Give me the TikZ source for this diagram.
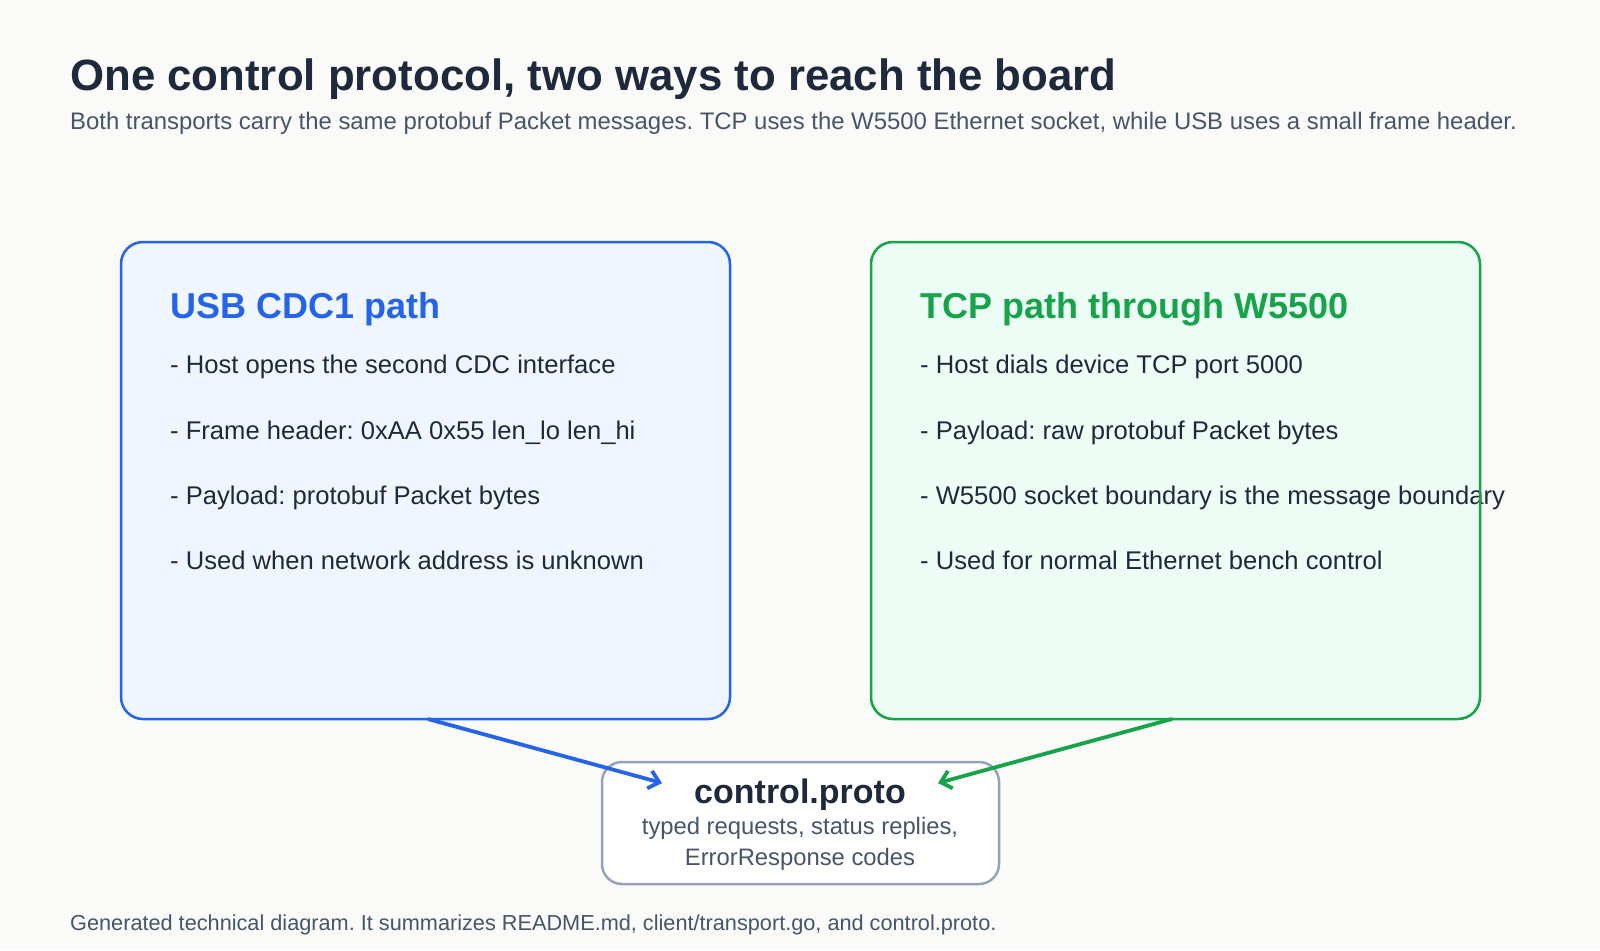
\documentclass[tikz,border=0pt]{standalone}
\usepackage{fontspec}
\setmainfont{Liberation Sans}
\usetikzlibrary{arrows.meta}
\frenchspacing
\definecolor{bg}{HTML}{FAFAF9}
\definecolor{ink}{HTML}{1E293B}
\definecolor{sub}{HTML}{475569}
\definecolor{blueS}{HTML}{2563EB}
\definecolor{blueF}{HTML}{EFF6FF}
\definecolor{greenS}{HTML}{16A34A}
\definecolor{greenF}{HTML}{ECFDF5}
\definecolor{grayS}{HTML}{94A3B8}
\tikzset{
  x=1pt,y=-1pt,
  panel/.style={draw=#1, line width=2.5pt, rounded corners=22pt},
  txt/.style={anchor=base west, inner sep=0pt, text=ink, font=\fontsize{25.6}{30}\selectfont},
  ptitle/.style={anchor=base west, inner sep=0pt, font=\fontsize{36}{42}\selectfont\bfseries},
  conn/.style={draw=#1, line width=3.8pt, -{Straight Barb[length=10pt,width=18pt,line width=3.8pt]}},
}
\begin{document}
\frenchspacing
\begin{tikzpicture}
\useasboundingbox[fill=bg] (0,0) rectangle (1600,950);
\node[anchor=base west, inner sep=0pt, text=ink, font=\fontsize{43.8}{50}\selectfont\bfseries] (title) at (70,90) {One control protocol, two ways to reach the board};
\node[anchor=base west, inner sep=0pt, text=sub, font=\fontsize{23.9}{28}\selectfont] (subtitle) at (70,129) {Both transports carry the same protobuf Packet messages. TCP uses the W5500 Ethernet socket, while USB uses a small frame header.};

% left panel
\path[fill=blueF, rounded corners=22pt] (121,242) rectangle (730,719);
\node[ptitle, text=blueS] (lt) at (170,318) {USB CDC1 path};
\node[txt] (l1) at (170,373) {- Host opens the second CDC interface};
\node[txt] (l2) at (170,439) {- Frame header: 0xAA 0x55 len\_lo len\_hi};
\node[txt] (l3) at (170,504) {- Payload: protobuf Packet bytes};
\node[txt] (l4) at (170,569) {- Used when network address is unknown};
\draw[panel=blueS] (121,242) rectangle (730,719);
\coordinate (L) at (428,719);

% right panel
\path[fill=greenF, rounded corners=22pt] (871,242) rectangle (1480,719);
\node[ptitle, text=greenS] (rt) at (920,318) {TCP path through W5500};
\node[txt] (r1) at (920,373) {- Host dials device TCP port 5000};
\node[txt] (r2) at (920,439) {- Payload: raw protobuf Packet bytes};
\node[txt] (r3) at (920,504) {- W5500 socket boundary is the message boundary};
\node[txt] (r4) at (920,569) {- Used for normal Ethernet bench control};
\draw[panel=greenS] (871,242) rectangle (1480,719);
\coordinate (R) at (1172,719);

% bottom box
\draw[draw=grayS, fill=white, line width=2.5pt, rounded corners=20pt] (602,762) rectangle (999,884);
\node[anchor=base, inner sep=0pt, text=ink, font=\fontsize{34}{40}\selectfont\bfseries] (cp) at (800,803) {control.proto};
\node[anchor=base, inner sep=0pt, text=sub, font=\fontsize{23.8}{28}\selectfont] (cp1) at (800,834) {typed requests, status replies,};
\node[anchor=base, inner sep=0pt, text=sub, font=\fontsize{23.8}{28}\selectfont] (cp2) at (800,865) {ErrorResponse codes};
\coordinate (CL) at (662,783);
\coordinate (CR) at (938,783);

\draw[conn=blueS] (L) -- (CL);
\draw[conn=greenS] (R) -- (CR);

\node[anchor=base west, inner sep=0pt, text=sub, font=\fontsize{21.7}{26}\selectfont] (foot) at (70,930) {Generated technical diagram. It summarizes README.md, client/transport.go, and control.proto.};
\end{tikzpicture}
\end{document}
